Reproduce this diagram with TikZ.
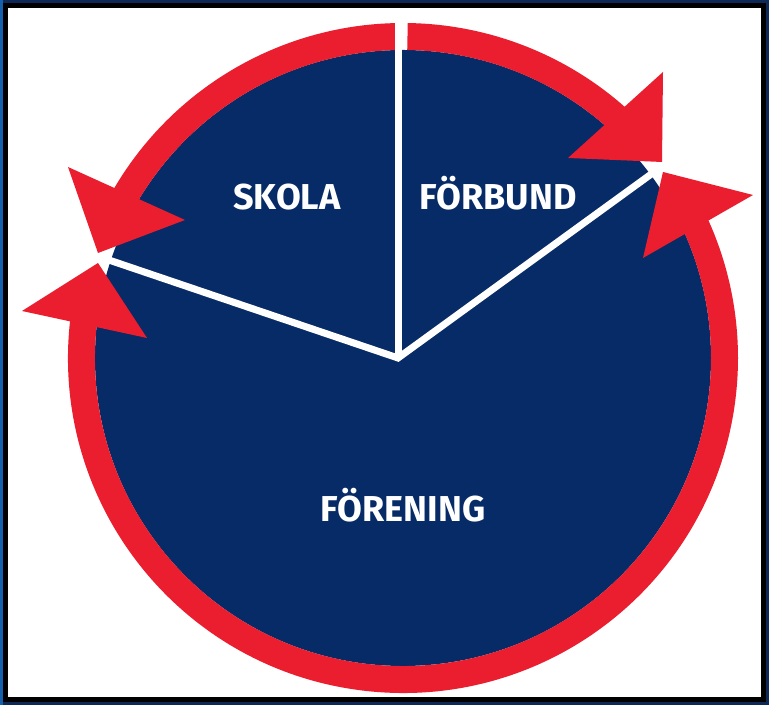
\documentclass[tikz,border=0pt]{standalone}
\usepackage{fontspec}
\setmainfont{Fira Sans}
\definecolor{disknavy}{RGB}{6,43,102}
\definecolor{ringred}{RGB}{234,30,46}
\definecolor{edgeblue}{RGB}{20,96,172}
\definecolor{edgenavy}{RGB}{14,40,88}
\begin{document}
\begin{tikzpicture}[x=1pt, y=1pt,
    ring/.style={ringred, line width=27pt},
    spoke/.style={white, line width=7pt},
    sectortext/.style={text=white, anchor=base, font=\bfseries\fontsize{36}{40}\selectfont}]
% frame
\fill[edgenavy] (0,0) rectangle (769,705);
\fill[edgeblue] (0,0) rectangle (3,705);
\fill[black] (3,3) rectangle (766,702);
\fill[white] (8,8) rectangle (761,697);
\coordinate (c) at (403,347);
\coordinate (v) at (398,347);
% disk and ring
\fill[disknavy] (c) circle (308);
\draw[ring] (c) ++(89.2:321.5) arc[start angle=89.2, end angle=47, radius=321.5];
\draw[ring] (c) ++(90.8:321.5) arc[start angle=90.8, end angle=151, radius=321.5];
\draw[ring] (c) ++(173:321.5) arc[start angle=173, end angle=385, radius=321.5];
% arrow heads
\fill[ringred] (663,633) -- (662,543) -- (568,547) -- cycle;
\fill[ringred] (98,452) -- (68,538) -- (185,485) -- cycle;
\fill[ringred] (98,442) -- (22,394) -- (147,367) -- cycle;
\fill[ringred] (663,533) -- (753,510) -- (643,447) -- cycle;
% sectors
\coordinate (top) at (398,692);
\coordinate (left) at (100,448);
\coordinate (right) at (661,538);
\draw[spoke] (left) -- (v) -- (right);
\draw[spoke] (v) -- (top);
\node[sectortext] (skola) at (287,495) {SKOLA};
\node[sectortext] (forbund) at (498,495) {FÖRBUND};
\node[sectortext] (forening) at (403,183) {FÖRENING};
\end{tikzpicture}
\end{document}
